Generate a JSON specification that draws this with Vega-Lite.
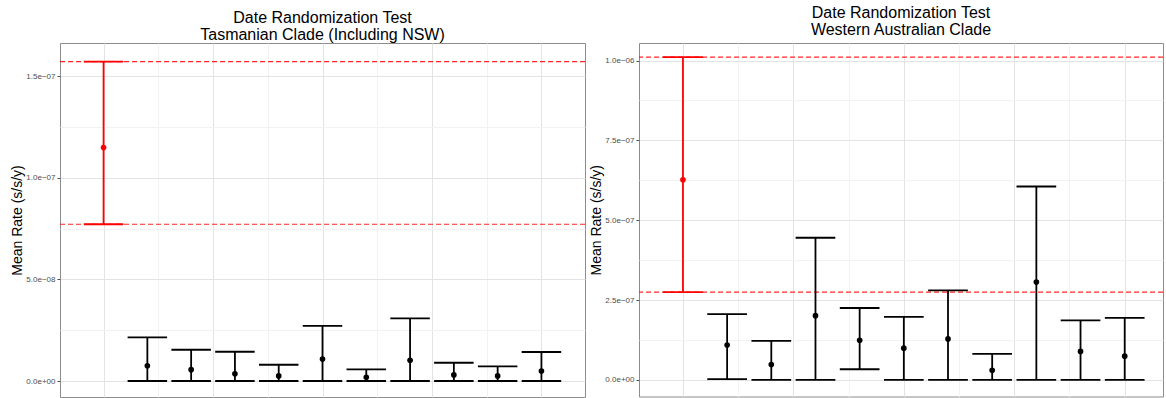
{
  "$schema": "https://vega.github.io/schema/vega-lite/v6.json",
  "padding": {"left": 9, "top": 4, "right": 0, "bottom": 1},
  "spacing": 1,
  "datasets": {
    "tas": [
      {"x": 0, "grp": "obs", "lo": 7.72e-8, "mean": 1.15e-7, "hi": 1.573e-7},
      {"x": 1, "grp": "rand", "lo": 0, "mean": 7.5e-9, "hi": 2.15e-8},
      {"x": 2, "grp": "rand", "lo": 0, "mean": 5.6e-9, "hi": 1.54e-8},
      {"x": 3, "grp": "rand", "lo": 0, "mean": 3.6e-9, "hi": 1.44e-8},
      {"x": 4, "grp": "rand", "lo": 0, "mean": 2.5e-9, "hi": 8.0e-9},
      {"x": 5, "grp": "rand", "lo": 0, "mean": 1.08e-8, "hi": 2.72e-8},
      {"x": 6, "grp": "rand", "lo": 0, "mean": 1.8e-9, "hi": 5.7e-9},
      {"x": 7, "grp": "rand", "lo": 0, "mean": 1.02e-8, "hi": 3.08e-8},
      {"x": 8, "grp": "rand", "lo": 0, "mean": 3.0e-9, "hi": 9.0e-9},
      {"x": 9, "grp": "rand", "lo": 0, "mean": 2.5e-9, "hi": 7.2e-9},
      {"x": 10, "grp": "rand", "lo": 0, "mean": 4.9e-9, "hi": 1.43e-8}
    ],
    "wa": [
      {"x": 0, "grp": "obs", "lo": 2.744e-7, "mean": 6.266e-7, "hi": 1.0106e-6},
      {"x": 1, "grp": "rand", "lo": 2e-9, "mean": 1.09e-7, "hi": 2.06e-7},
      {"x": 2, "grp": "rand", "lo": 0, "mean": 4.8e-8, "hi": 1.22e-7},
      {"x": 3, "grp": "rand", "lo": 0, "mean": 2.01e-7, "hi": 4.45e-7},
      {"x": 4, "grp": "rand", "lo": 3.3e-8, "mean": 1.24e-7, "hi": 2.25e-7},
      {"x": 5, "grp": "rand", "lo": 0, "mean": 9.9e-8, "hi": 1.97e-7},
      {"x": 6, "grp": "rand", "lo": 0, "mean": 1.28e-7, "hi": 2.8e-7},
      {"x": 7, "grp": "rand", "lo": 0, "mean": 3.0e-8, "hi": 8.1e-8},
      {"x": 8, "grp": "rand", "lo": 0, "mean": 3.06e-7, "hi": 6.056e-7},
      {"x": 9, "grp": "rand", "lo": 0, "mean": 8.9e-8, "hi": 1.86e-7},
      {"x": 10, "grp": "rand", "lo": 0, "mean": 7.4e-8, "hi": 1.94e-7}
    ]
  },
  "hconcat": [
    {
      "data": {"name": "tas"},
      "width": 525,
      "height": 354,
      "title": {
        "text": ["Date Randomization Test", "Tasmanian Clade (Including NSW)"],
        "offset": 0.5,
        "frame": "group",
        "anchor": "middle"
      },
      "layer": [
        {
          "transform": [{"filter": "datum.grp === 'obs'"}],
          "mark": {"type": "rule", "color": "#ff0000", "strokeDash": [5, 3], "strokeWidth": 1.2, "opacity": 0.85},
          "encoding": {
            "y": {"field": "hi", "type": "quantitative", "title": "Mean Rate (s/s/y)",
              "scale": {"domain": [-7.87e-9, 1.6644e-7], "nice": false, "zero": false},
              "axis": {
                "values": [0, 2.5e-8, 5e-8, 7.5e-8, 1e-7, 1.25e-7, 1.5e-7],
                "labelExpr": "abs(datum.value) < 1e-12 ? '0.0e+00' : abs(datum.value - 5e-8) < 1e-12 ? '5.0e\u221208' : abs(datum.value - 1e-7) < 1e-12 ? '1.0e\u221207' : abs(datum.value - 1.5e-7) < 1e-12 ? '1.5e\u221207' : ''",
                "gridColor": {"condition": {"test": "abs(datum.value/5e-8 - round(datum.value/5e-8)) < 1e-6", "value": "#e3e3e3"}, "value": "#f2f2f2"},
                "tickOpacity": {"condition": {"test": "abs(datum.value/5e-8 - round(datum.value/5e-8)) < 1e-6", "value": 1}, "value": 0}
              }
            }
          }
        },
        {
          "transform": [{"filter": "datum.grp === 'obs'"}],
          "mark": {"type": "rule", "color": "#ff0000", "strokeDash": [5, 3], "strokeWidth": 1.2, "opacity": 0.85},
          "encoding": {
            "y": {"field": "lo", "type": "quantitative", "title": "Mean Rate (s/s/y)"}
          }
        },
        {
          "mark": {"type": "rule", "strokeWidth": 1.8},
          "encoding": {
            "x": {"field": "x", "type": "quantitative",
              "scale": {"domain": [-0.995, 10.995], "nice": false, "zero": false},
              "axis": {
                "values": [0, 1.25, 2.5, 3.75, 5, 6.25, 7.5, 8.75, 10],
                "labels": false, "ticks": false, "domain": false, "title": null,
                "gridColor": {"condition": {"test": "datum.value % 2.5 === 0", "value": "#e3e3e3"}, "value": "#f2f2f2"}
              }
            },
            "y": {"field": "lo", "type": "quantitative", "title": "Mean Rate (s/s/y)"},
            "y2": {"field": "hi"},
            "color": {"field": "grp", "type": "nominal", "scale": {"domain": ["obs", "rand"], "range": ["#ff0000", "#000000"]}, "legend": null}
          }
        },
        {
          "mark": {"type": "tick", "orient": "horizontal", "size": 39.5, "thickness": 1.8, "opacity": 1},
          "encoding": {
            "x": {"field": "x", "type": "quantitative"},
            "y": {"field": "hi", "type": "quantitative", "title": "Mean Rate (s/s/y)"},
            "color": {"field": "grp", "type": "nominal", "legend": null}
          }
        },
        {
          "mark": {"type": "tick", "orient": "horizontal", "size": 39.5, "thickness": 1.8, "opacity": 1},
          "encoding": {
            "x": {"field": "x", "type": "quantitative"},
            "y": {"field": "lo", "type": "quantitative", "title": "Mean Rate (s/s/y)"},
            "color": {"field": "grp", "type": "nominal", "legend": null}
          }
        },
        {
          "mark": {"type": "point", "filled": true, "size": 32, "opacity": 1},
          "encoding": {
            "x": {"field": "x", "type": "quantitative"},
            "y": {"field": "mean", "type": "quantitative", "title": "Mean Rate (s/s/y)"},
            "color": {"field": "grp", "type": "nominal", "legend": null}
          }
        }
      ]
    },
    {
      "data": {"name": "wa"},
      "width": 524,
      "height": 353.5,
      "title": {
        "text": ["Date Randomization Test", "Western Australian Clade"],
        "offset": 5.5,
        "frame": "group",
        "anchor": "middle"
      },
      "layer": [
        {
          "transform": [{"filter": "datum.grp === 'obs'"}],
          "mark": {"type": "rule", "color": "#ff0000", "strokeDash": [5, 3], "strokeWidth": 1.2, "opacity": 0.85},
          "encoding": {
            "y": {"field": "hi", "type": "quantitative", "title": "Mean Rate (s/s/y)",
              "scale": {"domain": [-5.23e-8, 1.0551e-6], "nice": false, "zero": false},
              "axis": {
                "values": [0, 1.25e-7, 2.5e-7, 3.75e-7, 5e-7, 6.25e-7, 7.5e-7, 8.75e-7, 1e-6],
                "labelExpr": "abs(datum.value) < 1e-12 ? '0.0e+00' : abs(datum.value - 2.5e-7) < 1e-12 ? '2.5e\u221207' : abs(datum.value - 5e-7) < 1e-12 ? '5.0e\u221207' : abs(datum.value - 7.5e-7) < 1e-12 ? '7.5e\u221207' : abs(datum.value - 1e-6) < 1e-12 ? '1.0e\u221206' : ''",
                "gridColor": {"condition": {"test": "abs(datum.value/2.5e-7 - round(datum.value/2.5e-7)) < 1e-6", "value": "#e3e3e3"}, "value": "#f2f2f2"},
                "tickOpacity": {"condition": {"test": "abs(datum.value/2.5e-7 - round(datum.value/2.5e-7)) < 1e-6", "value": 1}, "value": 0}
              }
            }
          }
        },
        {
          "transform": [{"filter": "datum.grp === 'obs'"}],
          "mark": {"type": "rule", "color": "#ff0000", "strokeDash": [5, 3], "strokeWidth": 1.2, "opacity": 0.85},
          "encoding": {
            "y": {"field": "lo", "type": "quantitative", "title": "Mean Rate (s/s/y)"}
          }
        },
        {
          "mark": {"type": "rule", "strokeWidth": 1.8},
          "encoding": {
            "x": {"field": "x", "type": "quantitative",
              "scale": {"domain": [-0.995, 10.867], "nice": false, "zero": false},
              "axis": {
                "values": [0, 1.25, 2.5, 3.75, 5, 6.25, 7.5, 8.75, 10],
                "labels": false, "ticks": false, "domain": false, "title": null,
                "gridColor": {"condition": {"test": "datum.value % 2.5 === 0", "value": "#e3e3e3"}, "value": "#f2f2f2"}
              }
            },
            "y": {"field": "lo", "type": "quantitative", "title": "Mean Rate (s/s/y)"},
            "y2": {"field": "hi"},
            "color": {"field": "grp", "type": "nominal", "scale": {"domain": ["obs", "rand"], "range": ["#ff0000", "#000000"]}, "legend": null}
          }
        },
        {
          "mark": {"type": "tick", "orient": "horizontal", "size": 39.7, "thickness": 1.8, "opacity": 1},
          "encoding": {
            "x": {"field": "x", "type": "quantitative"},
            "y": {"field": "hi", "type": "quantitative", "title": "Mean Rate (s/s/y)"},
            "color": {"field": "grp", "type": "nominal", "legend": null}
          }
        },
        {
          "mark": {"type": "tick", "orient": "horizontal", "size": 39.7, "thickness": 1.8, "opacity": 1},
          "encoding": {
            "x": {"field": "x", "type": "quantitative"},
            "y": {"field": "lo", "type": "quantitative", "title": "Mean Rate (s/s/y)"},
            "color": {"field": "grp", "type": "nominal", "legend": null}
          }
        },
        {
          "mark": {"type": "point", "filled": true, "size": 32, "opacity": 1},
          "encoding": {
            "x": {"field": "x", "type": "quantitative"},
            "y": {"field": "mean", "type": "quantitative", "title": "Mean Rate (s/s/y)"},
            "color": {"field": "grp", "type": "nominal", "legend": null}
          }
        }
      ]
    }
  ],
  "config": {
    "font": "Liberation Sans",
    "background": "#ffffff",
    "view": {"stroke": "#8c8c8c", "strokeWidth": 1},
    "title": {"font": "Liberation Sans", "fontSize": 16, "fontWeight": "normal", "color": "#000000", "lineHeight": 17},
    "axis": {"gridWidth": 1},
    "axisY": {
      "tickSize": 3, "tickColor": "#4d4d4d", "tickWidth": 1,
      "labelPadding": 2, "labelFont": "Liberation Sans", "labelFontSize": 8, "labelColor": "#4d4d4d",
      "labelOverlap": false, "labelFlush": false, "labelBound": false,
      "domain": false, "minExtent": 34, "maxExtent": 34,
      "titlePadding": 2, "titleFont": "Liberation Sans", "titleFontSize": 14, "titleFontWeight": "normal", "titleColor": "#000000"
    }
  }
}
